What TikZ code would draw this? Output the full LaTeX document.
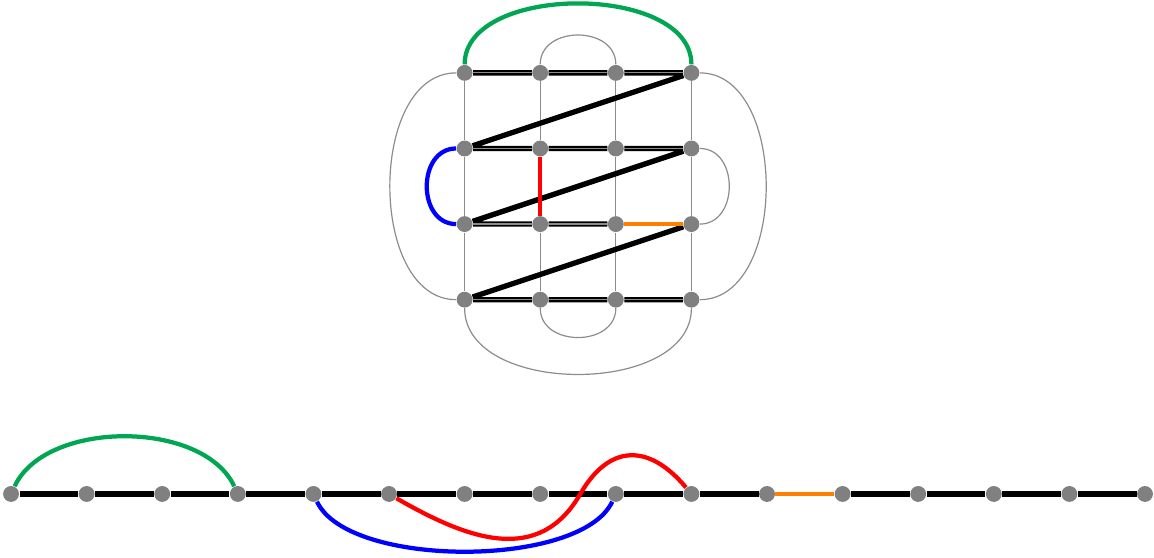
\documentclass[tikz,border=0pt]{standalone}
\usetikzlibrary{positioning}
\definecolor{arcgreen}{RGB}{0,166,81}
\definecolor{arcorange}{RGB}{255,128,0}

\begin{document}
\begin{tikzpicture}[
  vtx/.style={circle,fill=black!50,inner sep=0pt,minimum size=2.1mm},
  walk/.style={line width=2pt},
  lattice/.style={draw=black!45,line width=0.45pt},
  hop/.style={line width=1.6pt}
]
\useasboundingbox (-0.146,-0.847) rectangle (15.119,6.534);

% the 4x4 grid
\node[vtx] (g11) at (6,5.57) {}; \node[vtx] (g12) at (7,5.57) {}; \node[vtx] (g13) at (8,5.57) {}; \node[vtx] (g14) at (9,5.57) {};
\node[vtx] (g21) at (6,4.57) {}; \node[vtx] (g22) at (7,4.57) {}; \node[vtx] (g23) at (8,4.57) {}; \node[vtx] (g24) at (9,4.57) {};
\node[vtx] (g31) at (6,3.57) {}; \node[vtx] (g32) at (7,3.57) {}; \node[vtx] (g33) at (8,3.57) {}; \node[vtx] (g34) at (9,3.57) {};
\node[vtx] (g41) at (6,2.57) {}; \node[vtx] (g42) at (7,2.57) {}; \node[vtx] (g43) at (8,2.57) {}; \node[vtx] (g44) at (9,2.57) {};

\draw[lattice] (g11) -- (g21) -- (g31) -- (g41);
\draw[lattice] (g12) -- (g22) -- (g32) -- (g42);
\draw[lattice] (g13) -- (g23) -- (g33) -- (g43);
\draw[lattice] (g14) -- (g24) -- (g34) -- (g44);
\draw[lattice] (g12) to[out=90,in=90,looseness=1.33] (g13);
\draw[lattice] (g42) to[out=-90,in=-90,looseness=1.33] (g43);
\draw[lattice] (g24) to[out=0,in=0,looseness=1.33] (g34);
\draw[lattice] (g11) to[out=180,in=180,looseness=1.0] (g41);
\draw[lattice] (g14) to[out=0,in=0,looseness=1.0] (g44);
\draw[lattice] (g41) to[out=-90,in=-90,looseness=1.0] (g44);

\draw[walk] (g11) -- (g12) -- (g13) -- (g14) -- (g21) -- (g22) -- (g23) -- (g24)
  -- (g31) -- (g32) -- (g33);
\draw[walk] (g34) -- (g41) -- (g42) -- (g43) -- (g44);
\draw[lattice] (g11) -- (g12) -- (g13) -- (g14);
\draw[lattice] (g21) -- (g22) -- (g23) -- (g24);
\draw[lattice] (g31) -- (g32) -- (g33);
\draw[lattice] (g41) -- (g42) -- (g43) -- (g44);

\draw[hop,arcorange] (g33) -- (g34);
\draw[hop,red] (g22) -- (g32);
\draw[hop,blue] (g21) to[out=180,in=180,looseness=1.33] (g31);
\draw[hop,arcgreen] (g11) to[out=90,in=90,looseness=0.92] (g14);

% the same walk laid out on a line
\node[vtx] (l0) at (0,0) {};  \node[vtx] (l1) at (1,0) {};  \node[vtx] (l2) at (2,0) {};  \node[vtx] (l3) at (3,0) {};
\node[vtx] (l4) at (4,0) {};  \node[vtx] (l5) at (5,0) {};  \node[vtx] (l6) at (6,0) {};  \node[vtx] (l7) at (7,0) {};
\node[vtx] (l8) at (8,0) {};  \node[vtx] (l9) at (9,0) {};  \node[vtx] (l10) at (10,0) {}; \node[vtx] (l11) at (11,0) {};
\node[vtx] (l12) at (12,0) {}; \node[vtx] (l13) at (13,0) {}; \node[vtx] (l14) at (14,0) {}; \node[vtx] (l15) at (15,0) {};
\coordinate (rx) at (7.53,0);

\draw[walk] (l0) -- (l1) -- (l2) -- (l3) -- (l4) -- (l5) -- (l6) -- (l7) -- (l8) -- (l9) -- (l10);
\draw[walk] (l11) -- (l12) -- (l13) -- (l14) -- (l15);
\draw[hop,arcorange] (l10) -- (l11);
\draw[hop,arcgreen] (l0) to[out=65,in=115,looseness=0.86] (l3);
\draw[hop,blue] (l4) to[out=-65,in=-115,looseness=0.64] (l8);
\draw[hop,red] (l5) to[out=-30,in=240,looseness=1.15] (rx) to[out=60,in=130,looseness=1.4] (l9);
\end{tikzpicture}
\end{document}
